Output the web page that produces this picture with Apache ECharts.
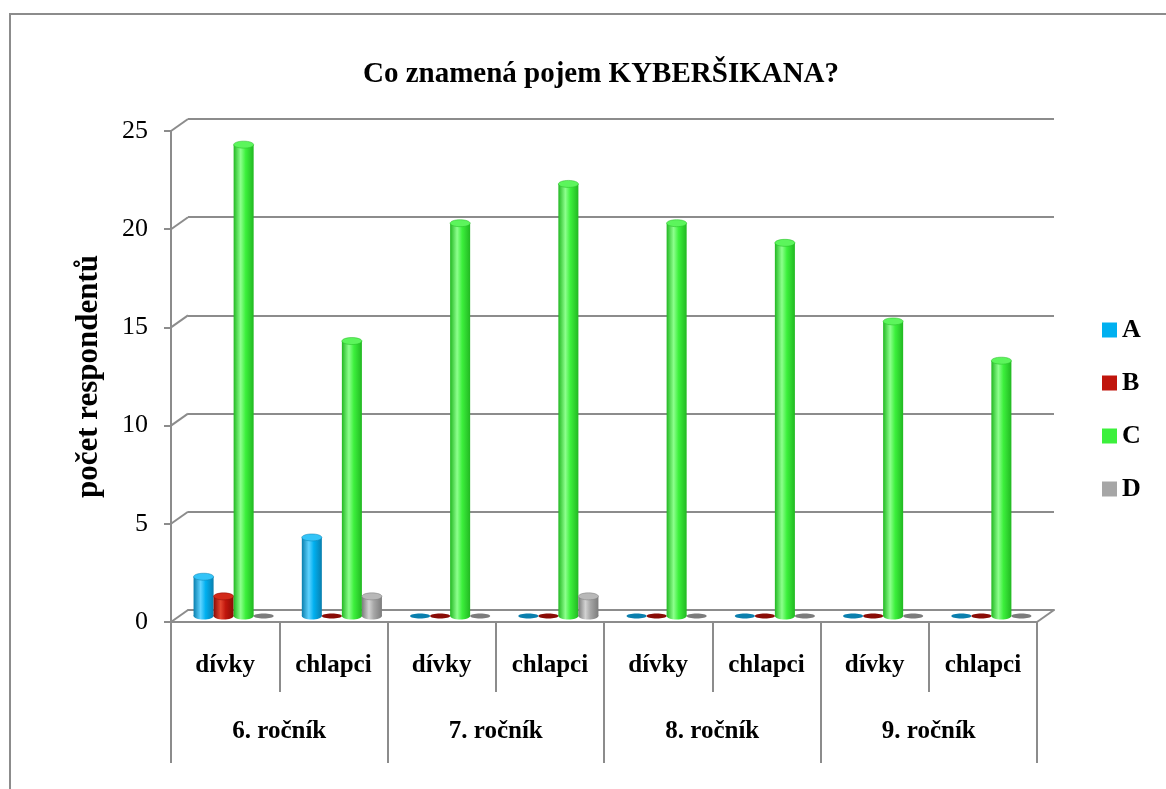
<!DOCTYPE html>
<html>
<head>
<meta charset="utf-8">
<script src="https://cdn.jsdelivr.net/npm/echarts@6/dist/echarts.min.js"></script>
<style>
html,body{margin:0;padding:0;background:#fff;}
#main{width:1166px;height:789px;}
</style>
</head>
<body>
<div id="main"></div>
<script>
var categories = ['dívky', 'chlapci', 'dívky', 'chlapci', 'dívky', 'chlapci', 'dívky', 'chlapci'];
var grades = ['6. ročník', '7. ročník', '8. ročník', '9. ročník'];
var seriesNames = ['A', 'B', 'C', 'D'];
var valuesA = [2, 4, 0, 0, 0, 0, 0, 0];
var valuesB = [1, 0, 0, 0, 0, 0, 0, 0];
var valuesC = [24, 14, 20, 22, 20, 19, 15, 13];
var valuesD = [0, 1, 0, 1, 0, 0, 0, 0];
var yTicks = [0, 5, 10, 15, 20, 25];

var serif = '"Liberation Serif", "DejaVu Serif", serif';
var gridColor = '#8c8c8c';

// base / dark edge / highlight / top cap
var palette = [
  ['#00b0f0', '#0a7fae', '#5fd3ff', '#33c4f8'],
  ['#c0150c', '#8a0c06', '#e4452f', '#d22a1a'],
  ['#3cf03c', '#22b822', '#8dff8d', '#5cf55c'],
  ['#a6a6a6', '#7c7c7c', '#d2d2d2', '#b8b8b8']
];

// 3D offset of the back wall
var dx = 17, dy = 12;
var frontLeft = 171, frontTop = 131, plotW = 866, plotH = 491;

var chart = echarts.init(document.getElementById('main'));

function cylinder(idx) {
  return function (params, api) {
    var cat = api.value(0), v = api.value(1);
    var top = api.coord([cat, v]);
    var base = api.coord([cat, 0]);
    var band = api.size([1, 0])[0];
    var w = band * 0.185;
    var cx = top[0] + (idx - 1.5) * w;
    var ry = 3.5;
    var col = palette[idx];
    var body = new echarts.graphic.LinearGradient(0, 0, 1, 0, [
      {offset: 0, color: col[1]},
      {offset: 0.35, color: col[2]},
      {offset: 0.6, color: col[0]},
      {offset: 1, color: col[1]}
    ]);
    var kids = [];
    if (v > 0) {
      kids.push({
        type: 'ellipse',
        shape: {cx: cx, cy: base[1], rx: w / 2, ry: ry},
        style: {fill: body}
      });
      kids.push({
        type: 'rect',
        shape: {x: cx - w / 2, y: top[1], width: w, height: base[1] - top[1]},
        style: {fill: body}
      });
      kids.push({
        type: 'ellipse',
        shape: {cx: cx, cy: top[1], rx: w / 2, ry: ry},
        style: {fill: col[3], stroke: col[1], lineWidth: 0.5}
      });
    } else {
      kids.push({
        type: 'ellipse',
        shape: {cx: cx, cy: top[1], rx: w / 2, ry: ry - 1},
        style: {fill: col[1]}
      });
    }
    return {type: 'group', children: kids};
  };
}

function toData(arr) {
  return arr.map(function (v, i) { return [i, v]; });
}

var allValues = [valuesA, valuesB, valuesC, valuesD];

var option = {
  animation: false,
  title: {
    text: 'Co znamená pojem KYBERŠIKANA?',
    left: 596,
    textAlign: 'center',
    top: 55,
    textStyle: {fontFamily: serif, fontSize: 29, fontWeight: 'bold', color: '#000'}
  },
  legend: {
    orient: 'vertical',
    left: 1097,
    top: 312,
    icon: 'rect',
    itemWidth: 15,
    itemHeight: 15,
    itemGap: 27,
    data: seriesNames,
    textStyle: {fontFamily: serif, fontSize: 26, fontWeight: 'bold', color: '#000'}
  },
  grid: [
    {left: frontLeft + dx, top: frontTop - dy, width: plotW, height: plotH},
    {left: frontLeft, top: frontTop, width: plotW, height: plotH},
    {left: frontLeft + dx / 2, top: frontTop - dy / 2, width: plotW, height: plotH}
  ],
  xAxis: [
    {gridIndex: 0, type: 'category', data: categories,
      axisLine: {show: true, lineStyle: {color: gridColor, width: 2}},
      axisTick: {show: false}, axisLabel: {show: false}},
    {gridIndex: 1, type: 'category', data: categories, position: 'bottom', offset: 0,
      axisLine: {show: true, lineStyle: {color: gridColor, width: 2}},
      axisTick: {show: true, interval: 0, length: 70, lineStyle: {color: gridColor, width: 2}},
      axisLabel: {interval: 0, margin: 31, fontFamily: serif, fontSize: 25, fontWeight: 'bold', color: '#000'}},
    {gridIndex: 1, type: 'category', data: grades, position: 'bottom', offset: 0,
      axisLine: {show: false},
      axisTick: {show: true, interval: 0, length: 141, lineStyle: {color: gridColor, width: 2}},
      axisLabel: {interval: 0, margin: 97, fontFamily: serif, fontSize: 25, fontWeight: 'bold', color: '#000'}},
    {gridIndex: 2, type: 'category', data: categories,
      axisLine: {show: false}, axisTick: {show: false}, axisLabel: {show: false}}
  ],
  yAxis: [
    {gridIndex: 0, type: 'value', min: 0, max: 25, interval: 5,
      axisLine: {show: false}, axisTick: {show: false}, axisLabel: {show: false},
      splitLine: {show: true, lineStyle: {color: gridColor, width: 2}}},
    {gridIndex: 1, type: 'value', min: 0, max: 25, interval: 5,
      name: 'počet respondentů', nameLocation: 'middle', nameGap: 67,
      nameTextStyle: {fontFamily: serif, fontSize: 31, fontWeight: 'bold', color: '#000'},
      axisLine: {show: true, lineStyle: {color: gridColor, width: 2}},
      axisTick: {show: true, length: 7, lineStyle: {color: gridColor, width: 2}},
      axisLabel: {margin: 23, fontFamily: serif, fontSize: 26, color: '#000'},
      splitLine: {show: false}},
    {gridIndex: 2, type: 'value', min: 0, max: 25, interval: 5,
      axisLine: {show: false}, axisTick: {show: false}, axisLabel: {show: false},
      splitLine: {show: false}}
  ],
  series: seriesNames.map(function (name, i) {
    return {
      name: name,
      type: 'custom',
      xAxisIndex: 3,
      yAxisIndex: 2,
      itemStyle: {color: palette[i][0]},
      encode: {x: 0, y: 1},
      renderItem: cylinder(i),
      z: 5,
      data: toData(allValues[i])
    };
  })
};

chart.setOption(option);

// diagonal edges joining the front axis with the back wall
var edges = [{
  type: 'rect', silent: true, z: 0,
  shape: {x: 10, y: 14, width: 1200, height: 820},
  style: {fill: null, stroke: gridColor, lineWidth: 2}
}];
yTicks.forEach(function (t) {
  var y = chart.convertToPixel({yAxisIndex: 1}, t);
  edges.push({
    type: 'line', silent: true,
    shape: {x1: frontLeft, y1: y, x2: frontLeft + dx, y2: y - dy},
    style: {stroke: gridColor, lineWidth: 2}
  });
});
var y0 = chart.convertToPixel({yAxisIndex: 1}, 0);
edges.push({
  type: 'line', silent: true,
  shape: {x1: frontLeft + plotW, y1: y0, x2: frontLeft + plotW + dx, y2: y0 - dy},
  style: {stroke: gridColor, lineWidth: 2}
});
chart.setOption({graphic: edges});
</script>
</body>
</html>
